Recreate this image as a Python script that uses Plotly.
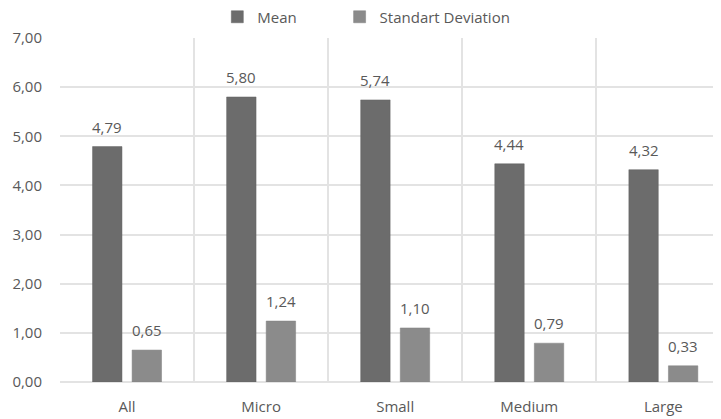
import plotly.graph_objects as go

categories = ["All", "Micro", "Small", "Medium", "Large"]
mean_vals = [4.79, 5.80, 5.74, 4.44, 4.32]
sd_vals = [0.65, 1.24, 1.10, 0.79, 0.33]
y_ticks = [0, 1, 2, 3, 4, 5, 6, 7]

font_fam = "Open Sans"
txt_col = "#595959"
grid_col = "#e3e3e3"
fs = 15

# the page body adds an 8px margin, so the figure is 8px smaller
W, H = 713, 411
ML, MR, MT, MB = 52, 0, 30, 37
x_range = [-0.5, 4.43]
bargap = 0.41

fig = go.Figure()
fig.add_trace(go.Bar(
    name="Mean", x=categories, y=mean_vals,
    marker=dict(color="#6c6c6c", line=dict(color="#626262", width=0.5)),
    legend="legend", showlegend=True,
))
fig.add_trace(go.Bar(
    name="Standart Deviation", x=categories, y=sd_vals,
    marker=dict(color="#8b8b8b", line=dict(color="#808080", width=0.5)),
    legend="legend2", showlegend=True,
))

# data labels, offset to the centre of each grouped bar
cat_px = (W - ML - MR) / (x_range[1] - x_range[0])
off = (1 - bargap) * cat_px / 4
for vals, sign in ((mean_vals, -1), (sd_vals, 1)):
    for c, v in zip(categories, vals):
        fig.add_annotation(x=c, y=v, text=f"{v:.2f}".replace(".", ","),
                           showarrow=False, xshift=sign * off, yshift=8,
                           yanchor="bottom", xanchor="center",
                           font=dict(size=fs, color=txt_col, family=font_fam))

leg_common = dict(orientation="h", yanchor="middle", xanchor="left",
                  y=1.061, font=dict(size=fs, color=txt_col), itemwidth=30,
                  bgcolor="rgba(0,0,0,0)", visible=True)

fig.update_layout(
    width=W, height=H,
    margin=dict(l=ML, r=MR, t=MT, b=MB, autoexpand=False),
    paper_bgcolor="white", plot_bgcolor="white",
    separators=",.",
    showlegend=True,
    barmode="group", bargap=bargap, bargroupgap=0.256,
    font=dict(family=font_fam, color=txt_col, size=fs),
    legend=dict(x=0.238, **leg_common),
    legend2=dict(x=0.423, **leg_common),
    xaxis=dict(range=x_range, tickson="boundaries", showgrid=True,
               gridcolor=grid_col, gridwidth=1.5, showline=False, ticks="",
               ticklabelstandoff=14,
               tickfont=dict(size=fs, color=txt_col)),
    yaxis=dict(range=[0, 7], tickvals=y_ticks, tickformat=".2f", showgrid=True,
               gridcolor=grid_col, gridwidth=1.5, zeroline=True, zerolinecolor=grid_col,
               zerolinewidth=1.5, ticks="", ticklabelstandoff=17,
               tickfont=dict(size=fs, color=txt_col)),
)

fig.write_html("out.html")
